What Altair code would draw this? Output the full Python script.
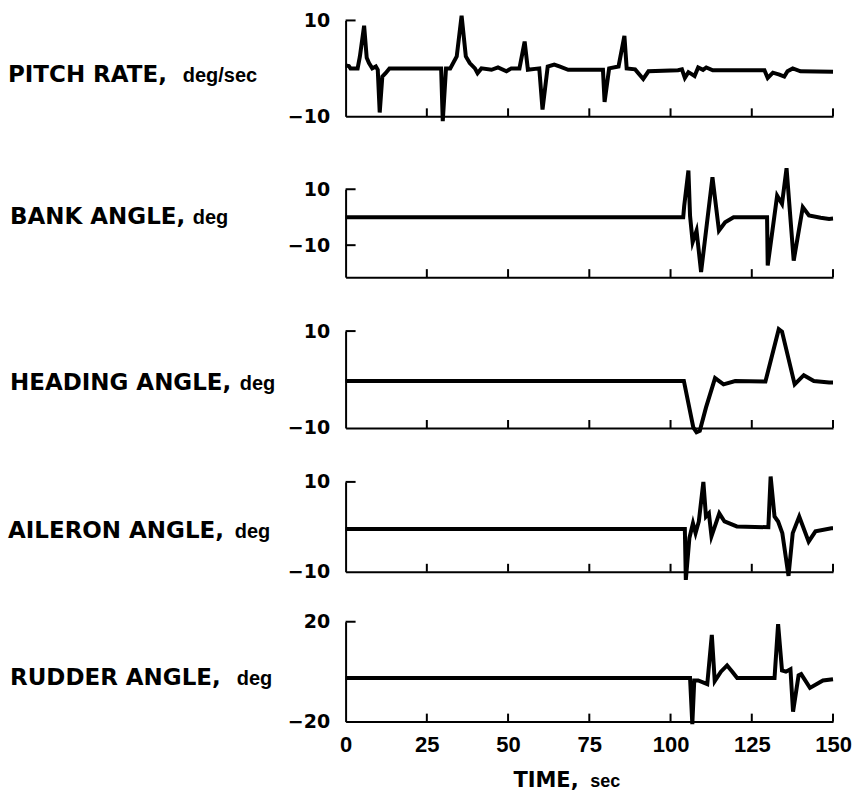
import altair as alt
import pandas as pd

# ---------------- data ----------------
x_ticks = [0, 25, 50, 75, 100, 125, 150]

pitch_t = [0, 1.0, 1.5, 3.7, 4.4, 5.7, 6.5, 7.2, 8.2, 9.3, 9.9, 10.5, 11.3, 12.3, 13.5,
           29.4, 29.9, 30.9, 32.2, 34.2, 35.7, 37.0, 38.2, 39.8, 40.6, 41.8, 44.9, 46.9,
           49.5, 51.0, 53.5, 55.1, 56.1, 59.6, 60.6, 62.2, 64.2, 65.8, 68.5, 73.8, 79.2,
           79.7, 81.1, 84.0, 85.8, 86.5, 89.1, 91.6, 93.2, 102.3, 103.5, 104.4, 105.5,
           106.5, 107.4, 108.5, 110.0, 111.0, 113.0, 128.9, 129.9, 131.5, 133.5, 135.0,
           136.0, 137.6, 140.0, 150.0]
pitch_v = [0.6, 0.5, 0.0, 0.0, 2.5, 8.9, 2.2, 1.1, 0.0, 0.4, -0.3, -9.2, -1.7, -1.0, 0.0,
           0.0, -11.0, 0.0, 0.0, 2.5, 11.0, 2.5, 1.1, 0.0, -1.0, 0.0, -0.3, 0.2,
           -0.6, 0.0, 0.0, 5.6, -0.3, 0.0, -8.6, 0.4, 0.8, 0.4, -0.3, -0.3, -0.3,
           -7.0, 0.0, 0.4, 6.8, 0.0, -0.2, -2.2, -0.6, -0.4, -0.2, -2.0, -0.8,
           -1.2, -1.6, 0.2, -0.3, 0.2, -0.4, -0.4, -2.0, -0.9, -1.3, -1.7,
           -0.6, 0.0, -0.6, -0.7]

bank_t = [0, 103.9, 104.2, 105.5, 106.0, 106.8, 108.0, 109.4, 112.9, 114.9, 116.8, 119.4,
          129.7, 129.9, 132.8, 134.3, 135.7, 137.9, 140.7, 142.6, 146.2, 148.8, 150]
bank_v = [0, 0, 4, 16.7, 0.5, -8.9, -4.8, -19.6, 14.3, -4.8, -1.8, 0,
          0, -17.3, 7.7, 4.8, 17.5, -15.5, 3.6, 0.6, -0.2, -0.6, -0.5]

heading_t = [0, 104.1, 107.0, 108.0, 109.0, 110.9, 113.7, 116.3, 119.9, 129.2, 133.3,
             134.3, 138.2, 141.0, 144.1, 148.8, 150]
heading_v = [-0.3, -0.3, -9.9, -10.9, -10.6, -5.8, 0.3, -1.0, -0.3, -0.4, 10.4,
             9.9, -1.0, 0.9, -0.3, -0.6, -0.6]

aileron_t = [0, 104.4, 104.7, 105.8, 106.9, 107.7, 108.7, 110.1, 110.9, 111.8, 112.6,
             115.0, 116.6, 120.4, 130.1, 130.8, 132.0, 133.1, 134.4, 136.3, 137.6,
             139.6, 142.5, 144.6, 149.5, 150]
aileron_v = [-0.5, -0.5, -11.8, -2.5, 0.8, -1.4, 1.2, 10.0, 2.3, 3.0, -2.1,
             3.0, 1.2, 0.1, -0.1, 11.2, 2.3, 1.2, -1.4, -10.9, -1.4,
             2.3, -3.3, -1.0, -0.3, -0.3]

rudder_t = [0, 106.0, 106.7, 107.3, 108.5, 111.3, 112.7, 113.6, 115.5, 117.4, 119.0,
            120.5, 132.0, 133.1, 134.3, 135.5, 136.9, 137.7, 139.4, 140.2, 142.9,
            146.9, 150]
rudder_v = [-2.5, -2.5, -21.0, -3.5, -3.5, -5.0, 14.7, -3.8, 0.0, 2.5, 0.0,
            -2.5, -2.5, 19.0, 0.5, 0.0, 1.0, -16.0, -1.5, -1.0, -6.5,
            -3.5, -3.0]

names = ["PITCH RATE,", "BANK ANGLE,", "HEADING ANGLE,", "AILERON ANGLE,", "RUDDER ANGLE,"]
units = ["deg/sec", "deg", "deg", "deg", "deg"]
y_label_values = [[-10, 10], [-10, 10], [-10, 10], [-10, 10], [-20, 20]]
y_inner_ticks = [[10], [10, -10], [10], [10], [20]]
y_domains = [[-10, 10], [-21.43, 10], [-10, 10], [-10, 10], [-20, 20]]
x_title = "TIME,"
x_title_unit = "sec"

series_t = [pitch_t, bank_t, heading_t, aileron_t, rudder_t]
series_v = [pitch_v, bank_v, heading_v, aileron_v, rudder_v]

# ---------------- layout (pixels) ----------------
W = 488
heights = [116, 161, 151, 144, 150]
range_tops = [20, 73, 54, 54, 50]
label_y = [75, 101, 106, 103, 106]
name_x = [-338, -336, -336, -338, -336]
unit_x = [-163, -153, -106, -111, -109]

WIDE = "DejaVu Sans"


def make_panel(i):
    H = heights[i]
    last = i == 4
    df = pd.DataFrame({"t": series_t[i], "v": series_v[i]})
    xs = alt.Scale(domain=[0, 150], nice=False, zero=False)
    ys = alt.Scale(domain=y_domains[i], range=[H, range_tops[i]], nice=False, zero=False)

    xaxis = alt.Axis(values=x_ticks, labels=last, ticks=False, domain=True,
                     domainColor="black", domainWidth=2, grid=False, title=None,
                     labelFont="Liberation Sans", labelFontSize=22, labelFontWeight="bold",
                     labelColor="black", labelPadding=13, labelFlush=False)
    yaxis = alt.Axis(values=y_label_values[i], ticks=False, domain=True,
                     domainColor="black", domainWidth=2, grid=False, title=None,
                     labelFont=WIDE, labelFontSize=19, labelFontWeight="bold",
                     labelColor="black", labelPadding=16)

    line = alt.Chart(df).mark_line(color="black", strokeWidth=4,
                                   strokeMiterLimit=6).encode(
        x=alt.X("t:Q", scale=xs, axis=xaxis),
        y=alt.Y("v:Q", scale=ys, axis=yaxis),
    )
    xt = alt.Chart(pd.DataFrame({"t": x_ticks[1:]})).mark_rule(
        color="black", strokeWidth=2).encode(
        x=alt.X("t:Q", scale=xs, axis=xaxis),
        y=alt.value(H), y2=alt.value(H - 8))
    yt = alt.Chart(pd.DataFrame({"v": y_inner_ticks[i]})).mark_rule(
        color="black", strokeWidth=2).encode(
        y=alt.Y("v:Q", scale=ys, axis=yaxis),
        x=alt.value(0), x2=alt.value(10))
    nm = alt.Chart(pd.DataFrame({"s": [names[i]]})).mark_text(
        align="left", baseline="middle", font=WIDE, fontSize=23,
        fontWeight="bold", color="black").encode(
        x=alt.value(name_x[i]), y=alt.value(label_y[i]), text="s:N")
    un = alt.Chart(pd.DataFrame({"s": [units[i]]})).mark_text(
        align="left", baseline="middle", font="Liberation Sans", fontSize=20,
        fontWeight="bold", color="black").encode(
        x=alt.value(unit_x[i]), y=alt.value(label_y[i] + 1), text="s:N")
    layers = [line, xt, yt, nm, un]
    if last:
        tt = alt.Chart(pd.DataFrame({"s": [x_title]})).mark_text(
            align="left", baseline="middle", font=WIDE, fontSize=21,
            fontWeight="bold", color="black").encode(
            x=alt.value(168), y=alt.value(H + 59), text="s:N")
        tu = alt.Chart(pd.DataFrame({"s": [x_title_unit]})).mark_text(
            align="left", baseline="middle", font="Liberation Sans", fontSize=18,
            fontWeight="bold", color="black").encode(
            x=alt.value(245), y=alt.value(H + 60), text="s:N")
        layers += [tt, tu]
    return alt.layer(*layers).properties(width=W, height=H)


chart = alt.vconcat(*[make_panel(i) for i in range(5)], spacing=0, bounds="flush").properties(
    padding={"left": 8, "top": 0, "right": 0, "bottom": 5},
    background="white",
).configure_view(stroke=None)

chart.save("out.html", embed_options={"renderer": "svg", "actions": False})
